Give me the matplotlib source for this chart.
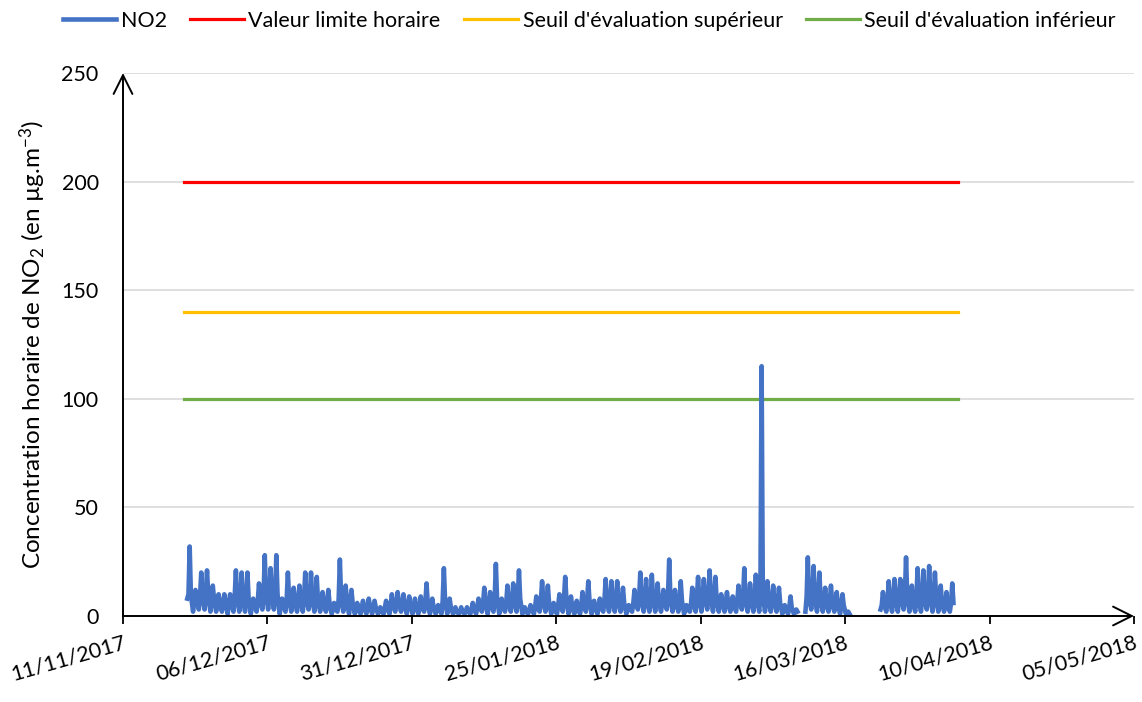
import numpy as np
import pandas as pd
import matplotlib
matplotlib.use("Agg")
import matplotlib.pyplot as plt

# ---------------- data ----------------
first_day = "2017-11-22"
# daily maxima of hourly NO2 (µg/m3), one entry per day from first_day, None = no data
daily_max = [32, 12, 20, 21, 14, 10, 10, 10, 21, 20,
             20, 8, 15, 28, 22, 28, 8, 20, 13, 14,
             20, 20, 18, 11, 12, 6, 26, 14, 12, 6,
             7, 8, 7, 4, 7, 10, 11, 10, 9, 8,
             9, 15, 8, 5, 22, 8, 4, 4, 4, 6,
             8, 13, 11, 24, 8, 14, 15, 21, 4, 5,
             9, 16, 14, 6, 10, 18, 9, 7, 11, 16,
             7, 8, 17, 16, 16, 13, 5, 12, 20, 17,
             19, 15, 12, 26, 12, 16, 5, 13, 18, 17,
             21, 18, 10, 11, 9, 14, 22, 15, 19, 115,
             16, 14, 13, 5, 9, 3,
             None,
             27, 23, 20, 13, 14, 11, 10, 2,
             None, None, None, None, None,
             11, 16, 17, 17, 27, 14, 22, 21, 23, 20, 14, 11, 15]
# typical (background) level of each day
daily_typ = [10, 7, 9, 10, 8, 6, 6, 6, 9, 8,
             8, 5, 7, 10, 9, 10, 5, 8, 7, 7,
             8, 8, 7, 6, 6, 3, 8, 7, 6, 3,
             4, 4, 4, 2, 4, 5, 6, 5, 5, 4,
             4, 6, 4, 3, 7, 4, 2, 2, 2, 3,
             4, 6, 5, 8, 4, 6, 7, 8, 2, 3,
             4, 7, 6, 3, 5, 8, 4, 3, 5, 7,
             4, 4, 7, 7, 7, 6, 3, 6, 8, 7,
             8, 7, 6, 9, 6, 7, 3, 6, 8, 8,
             9, 8, 6, 6, 5, 7, 8, 7, 8, 10,
             7, 7, 6, 3, 4, 2,
             None,
             9, 9, 8, 6, 6, 5, 5, 1,
             None, None, None, None, None,
             5, 7, 8, 8, 9, 6, 8, 8, 9, 8, 6, 5, 6]
# daily minima
daily_min = [8, 2, 3, 3, 2, 2, 2, 1, 2, 2,
             2, 1, 2, 3, 3, 3, 1, 2, 2, 2,
             2, 3, 2, 2, 2, 1, 2, 2, 1, 1,
             1, 1, 1, 1, 1, 1, 2, 2, 1, 1,
             1, 2, 1, 1, 1, 1, 1, 1, 1, 1,
             1, 2, 1, 2, 1, 2, 2, 2, 1, 1,
             1, 2, 2, 1, 1, 2, 1, 1, 1, 2,
             1, 1, 2, 2, 2, 2, 1, 2, 3, 2,
             2, 2, 2, 3, 2, 2, 1, 2, 2, 2,
             3, 2, 2, 2, 2, 2, 3, 2, 2, 2,
             2, 2, 2, 1, 1, 1,
             None,
             2, 3, 2, 2, 2, 2, 1, 1,
             None, None, None, None, None,
             3, 2, 2, 2, 3, 2, 2, 2, 3, 2, 2, 2, 2]

limit_value = 200          # Valeur limite horaire
upper_threshold = 140      # Seuil d'évaluation supérieur
lower_threshold = 100      # Seuil d'évaluation inférieur
threshold_start = "2017-11-21 12:00"
threshold_end = "2018-04-04 12:00"

series_names = ["NO2", "Valeur limite horaire",
                "Seuil d'évaluation supérieur", "Seuil d'évaluation inférieur"]
series_colors = ["#4472C4", "#FF0000", "#FFC000", "#70AD47"]

tick_labels = ["11/11/2017", "06/12/2017", "31/12/2017", "25/01/2018",
               "19/02/2018", "16/03/2018", "10/04/2018", "05/05/2018"]
y_ticks = [0, 50, 100, 150, 200, 250]

# ---------------- build hourly-like series ----------------
times, values = [], []
start = pd.Timestamp(first_day)
for i, (mn, ty, mx) in enumerate(zip(daily_min, daily_typ, daily_max)):
    day = start + pd.Timedelta(days=i)
    if mx is None:
        times.append(day + pd.Timedelta(hours=12))
        values.append(np.nan)
        continue
    for h, v in ((3, mn), (8, ty), (13, mx), (18, ty)):
        times.append(day + pd.Timedelta(hours=h))
        values.append(v)

# ---------------- figure ----------------
plt.rcParams["font.family"] = ["Lato", "DejaVu Sans"]
plt.rcParams["mathtext.fontset"] = "custom"
plt.rcParams["mathtext.rm"] = "Lato"
plt.rcParams["mathtext.it"] = "Lato:italic"
plt.rcParams["mathtext.default"] = "regular"

fig = plt.figure(figsize=(11.42, 7.02), dpi=100)
ax = fig.add_axes([123 / 1142, 1 - 616 / 702, (1134 - 123) / 1142, (616 - 73) / 702])

t0, t1 = pd.Timestamp(threshold_start), pd.Timestamp(threshold_end)
lw = 2.3
ax.plot(times, values, color=series_colors[0], lw=3.3, label=series_names[0],
        zorder=5, solid_joinstyle="round")
ax.plot([t0, t1], [limit_value] * 2, color=series_colors[1], lw=lw, label=series_names[1], zorder=3)
ax.plot([t0, t1], [upper_threshold] * 2, color=series_colors[2], lw=lw, label=series_names[2], zorder=3)
ax.plot([t0, t1], [lower_threshold] * 2, color=series_colors[3], lw=lw, label=series_names[3], zorder=3)

tick_dates = pd.to_datetime(tick_labels, format="%d/%m/%Y")
ax.set_xlim(tick_dates[0], tick_dates[-1])
ax.set_ylim(y_ticks[0], y_ticks[-1])

ax.set_xticks(tick_dates)
ax.set_xticklabels(tick_labels, rotation=16, ha="right", va="top",
                   rotation_mode="anchor", fontsize=15.5)
ax.tick_params(axis="x", length=6, width=1.3, pad=6, color="black")
ax.set_yticks(y_ticks)
ax.set_yticklabels([str(v) for v in y_ticks], fontsize=15.5)
ax.tick_params(axis="y", length=0, pad=17.5)

ax.yaxis.grid(True, color="#d9d9d9", lw=1.2)
ax.set_axisbelow(True)
for s in ax.spines.values():
    s.set_visible(False)

arrow = dict(arrowstyle="->,head_length=0.9,head_width=0.45", lw=1.4, color="black",
             shrinkA=0, shrinkB=0, mutation_scale=15)
ax.annotate("", xy=(1, 0), xytext=(0, 0), xycoords="axes fraction", arrowprops=arrow,
            annotation_clip=False, zorder=6)
ax.annotate("", xy=(0, 1), xytext=(0, 0), xycoords="axes fraction", arrowprops=arrow,
            annotation_clip=False, zorder=6)

ax.set_ylabel(r"Concentration horaire de NO$_2$ (en µg.m$^{-3}$)", fontsize=17.5)
ax.yaxis.set_label_coords(-0.074, 0.5)

fig.legend(loc="upper center", bbox_to_anchor=(0.516, 1.012), ncol=4, frameon=False,
           fontsize=15.5, handlelength=2.5, handletextpad=0.2, columnspacing=1.1)

fig.savefig("out.png", dpi=100)
